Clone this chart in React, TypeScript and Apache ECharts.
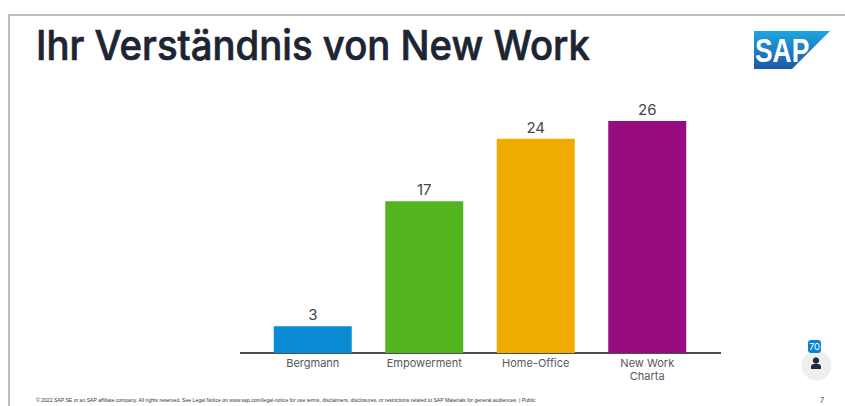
import React, { useEffect, useRef } from "react";
import * as echarts from "echarts";

const categories = ["Bergmann", "Empowerment", "Home-Office", "New Work\nCharta"];
const values = [3, 17, 24, 26];
const barColors = ["#0a8ad2", "#52b520", "#efab00", "#970c7f"];
const titleText = "Ihr Verständnis von New Work";
const footerText =
  "© 2022 SAP SE or an SAP affiliate company. All rights reserved. See Legal Notice on www.sap.com/legal-notice for use terms, disclaimers, disclosures, or restrictions related to SAP Materials for general audiences. | Public";
const pageNumber = "7";
const badgeCount = "70";

const FONT = "Inter, 'Noto Sans', sans-serif";

export default function App() {
  const ref = useRef<HTMLDivElement>(null);
  useEffect(() => {
    const chart = echarts.init(ref.current!, null, { renderer: "svg" });
    chart.setOption({
      animation: false,
      backgroundColor: "#ffffff",
      grid: { left: 257, top: 121, width: 446, height: 232, containLabel: false },
      xAxis: {
        type: "category",
        data: categories,
        axisLine: { show: true, lineStyle: { color: "#4b4f55", width: 2 } },
        axisTick: { show: false },
        axisLabel: { color: "#55585c", fontSize: 11, fontFamily: FONT, margin: 3, lineHeight: 13, interval: 0 },
      },
      yAxis: { type: "value", min: 0, max: 26, show: false, splitLine: { show: false } },
      series: [
        {
          type: "bar",
          data: values.map((v, i) => ({ value: v, itemStyle: { color: barColors[i] } })),
          barWidth: 78,
          label: { show: true, position: "top", distance: 4, color: "#44474b", fontSize: 15, fontFamily: FONT },
        },
      ],
      graphic: [
        { type: "line", shape: { x1: 9, y1: 15, x2: 845, y2: 15 }, style: { stroke: "#bdbdbd", lineWidth: 2 } },
        { type: "line", shape: { x1: 9, y1: 14, x2: 9, y2: 406 }, style: { stroke: "#bdbdbd", lineWidth: 2 } },
        { type: "line", shape: { x1: 240, y1: 353, x2: 721, y2: 353 }, style: { stroke: "#4b4f55", lineWidth: 2 } },
        {
          type: "text", x: 36, y: 25, scaleX: 0.935,
          style: { text: titleText, fill: "#1d2533", fontSize: 41, fontWeight: 500, fontFamily: FONT, stroke: "#1d2533", lineWidth: 0.7 },
        },
        {
          type: "polygon",
          shape: { points: [[754, 31], [830, 31], [792, 69], [754, 69]] },
          style: {
            fill: new echarts.graphic.LinearGradient(0, 0, 0, 1, [
              { offset: 0, color: "#1ea5e0" },
              { offset: 1, color: "#1c59a6" },
            ]),
          },
        },
        {
          type: "text", x: 755, y: 34, scaleX: 0.8,
          style: { text: "SAP", fill: "#ffffff", fontSize: 33, fontWeight: 800, fontFamily: "'Liberation Sans', sans-serif" },
        },
        { type: "circle", shape: { cx: 816.5, cy: 365.5, r: 15 }, style: { fill: "#efefef" } },
        { type: "rect", shape: { x: 808, y: 340, width: 13, height: 13, r: 3 }, style: { fill: "#0a85d0" } },
        {
          type: "text", x: 814.5, y: 346.5,
          style: { text: badgeCount, fill: "#ffffff", fontSize: 9.5, fontFamily: FONT, align: "center", verticalAlign: "middle" },
        },
        { type: "circle", shape: { cx: 816, cy: 360.5, r: 3.2 }, style: { fill: "#1d2d3e" } },
        { type: "rect", shape: { x: 811, y: 364, width: 10, height: 5, r: [3, 3, 0, 0] }, style: { fill: "#1d2d3e" } },
        {
          type: "text", x: 36, y: 397.5,
          style: { text: footerText, fill: "#33363a", fontSize: 5.1, fontFamily: "'Liberation Sans', sans-serif" },
        },
        {
          type: "text", x: 820, y: 397,
          style: { text: pageNumber, fill: "#33363a", fontSize: 7, fontFamily: FONT },
        },
      ],
    });
    return () => chart.dispose();
  }, []);
  return <div ref={ref} style={{ position: "absolute", left: 0, top: 0, width: 845, height: 406 }} />;
}
